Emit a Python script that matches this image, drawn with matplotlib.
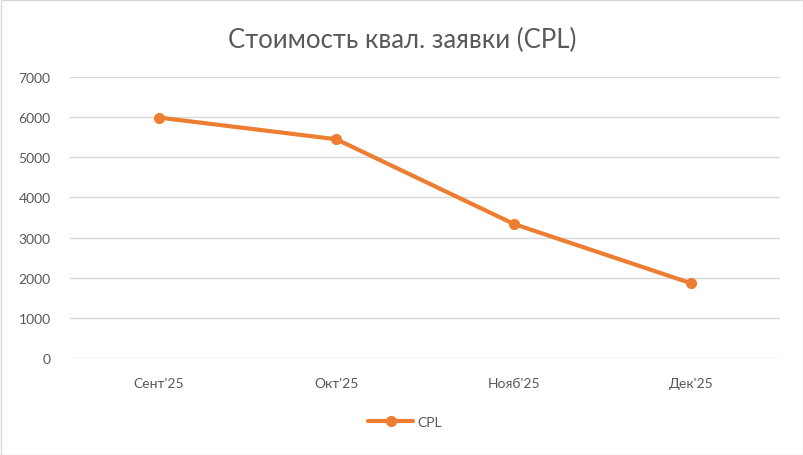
import matplotlib.pyplot as plt
from matplotlib.patches import Rectangle

months = ["Сент'25", "Окт'25", "Нояб'25", "Дек'25"]
cpl = [5990, 5450, 3340, 1860]
y_ticks = [0, 1000, 2000, 3000, 4000, 5000, 6000, 7000]

plt.rcParams['font.family'] = ['Lato', 'DejaVu Sans']

W, H = 804, 456
fig = plt.figure(figsize=(W / 100, H / 100), dpi=100)
ax = fig.add_axes([70 / W, 1 - 359 / H, 710 / W, 281 / H])

x = list(range(len(months)))
ax.plot(x, cpl, color='#ED7D31', linewidth=3.0, marker='o', markersize=7,
        solid_capstyle='round', label='CPL', zorder=3)

ax.set_xlim(-0.5, len(months) - 0.5)
ax.set_ylim(0, 7000)
ax.set_yticks(y_ticks)
ax.set_yticklabels([str(v) for v in y_ticks])
ax.set_xticks(x)
ax.set_xticklabels(months)
ax.tick_params(axis='both', length=0, labelsize=10, labelcolor='#595959')
ax.tick_params(axis='x', pad=14)
ax.tick_params(axis='y', pad=14)
ax.grid(axis='y', color='#D9D9D9', linewidth=1.0)
for s in ax.spines.values():
    s.set_visible(False)
ax.set_axisbelow(True)

fig.text(0.5, 1 - 40 / H, 'Стоимость квал. заявки (CPL)', ha='center', va='center',
         fontsize=18.5, color='#595959')

fig.legend(loc='center', bbox_to_anchor=(405 / W, 1 - 423 / H), frameon=False,
           fontsize=10, labelcolor='#595959', handlelength=3.2, handletextpad=0.3)

fig.patches.append(Rectangle((0.5 / W, 0.5 / H), 1 - 1 / W, 1 - 1 / H,
                             transform=fig.transFigure, fill=False,
                             edgecolor='#D9D9D9', linewidth=1))

fig.savefig('out.png', dpi=100)
